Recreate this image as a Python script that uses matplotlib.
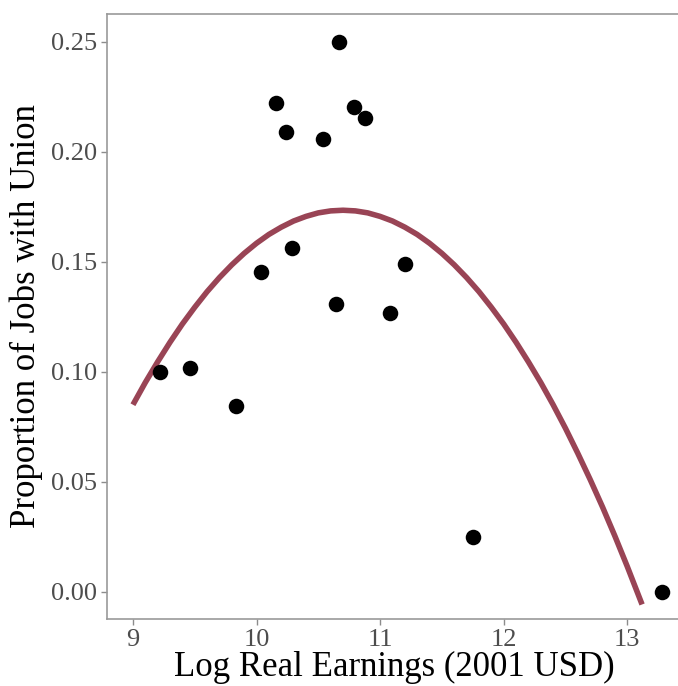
import numpy as np
import matplotlib.pyplot as plt

plt.rcParams['font.family'] = ['Liberation Serif', 'DejaVu Serif']

# Log real earnings bins and share of jobs with union coverage
log_earn = [9.22, 9.46, 9.83, 10.04, 10.29, 10.16, 10.24, 10.54,
            10.67, 10.64, 10.79, 10.88, 11.20, 11.08, 11.75, 13.28]
union_share = [0.100, 0.102, 0.0845, 0.1455, 0.1564, 0.2223, 0.209, 0.206,
               0.250, 0.131, 0.2205, 0.2155, 0.149, 0.127, 0.025, 0.000]

# Quadratic fit line (values along the curve)
fit_x = [9.0, 9.1, 9.2, 9.3, 9.4, 9.5, 9.6, 9.7, 9.8, 9.9,
         10.0, 10.1, 10.2, 10.3, 10.4, 10.5, 10.6, 10.7, 10.8, 10.9,
         11.0, 11.1, 11.2, 11.3, 11.4, 11.5, 11.6, 11.7, 11.8, 11.9,
         12.0, 12.1, 12.2, 12.3, 12.4, 12.5, 12.6, 12.7, 12.8, 12.9,
         13.0, 13.12]
fit_y = [0.0851, 0.0952, 0.1046, 0.1135, 0.1218, 0.1294, 0.1365, 0.1429, 0.1487, 0.1539,
         0.1585, 0.1625, 0.1658, 0.1686, 0.1707, 0.1723, 0.1732, 0.1735, 0.1732, 0.1723,
         0.1707, 0.1686, 0.1658, 0.1625, 0.1585, 0.1539, 0.1487, 0.1429, 0.1365, 0.1294,
         0.1218, 0.1135, 0.1046, 0.0952, 0.0851, 0.0744, 0.0630, 0.0511, 0.0386, 0.0254,
         0.0116, -0.0057]

x_ticks = [9, 10, 11, 12, 13]
y_ticks = [0.00, 0.05, 0.10, 0.15, 0.20, 0.25]

fig = plt.figure(figsize=(6.78, 6.86), dpi=100)
# panel runs past the right edge of the canvas
ax = fig.add_axes([107 / 678, 67 / 686, 574 / 678, 605 / 686])

ax.plot(fit_x, fit_y, color='#994455', linewidth=4.0, solid_capstyle='butt',
        solid_joinstyle='round', zorder=2)
ax.scatter(log_earn, union_share, s=125, color='black', linewidths=0, zorder=3)

ax.set_xlim(8.79, 13.435)
ax.set_ylim(-0.0123, 0.2627)
ax.set_xticks(x_ticks)
ax.set_xticklabels([str(t) for t in x_ticks])
ax.set_yticks(y_ticks)
ax.set_yticklabels(['{:.2f}'.format(t) for t in y_ticks])

ax.tick_params(axis='both', colors='#8c8c8c', length=4, width=1,
               labelsize=19, labelcolor='#4d4d4d', pad=3)
for side in ax.spines.values():
    side.set_color('#999999')
    side.set_linewidth(1.2)

ax.set_xlabel('Log Real Earnings (2001 USD)', fontsize=25, labelpad=0)
ax.set_ylabel('Proportion of Jobs with Union', fontsize=25, labelpad=6)

fig.savefig('out.png', dpi=100)
